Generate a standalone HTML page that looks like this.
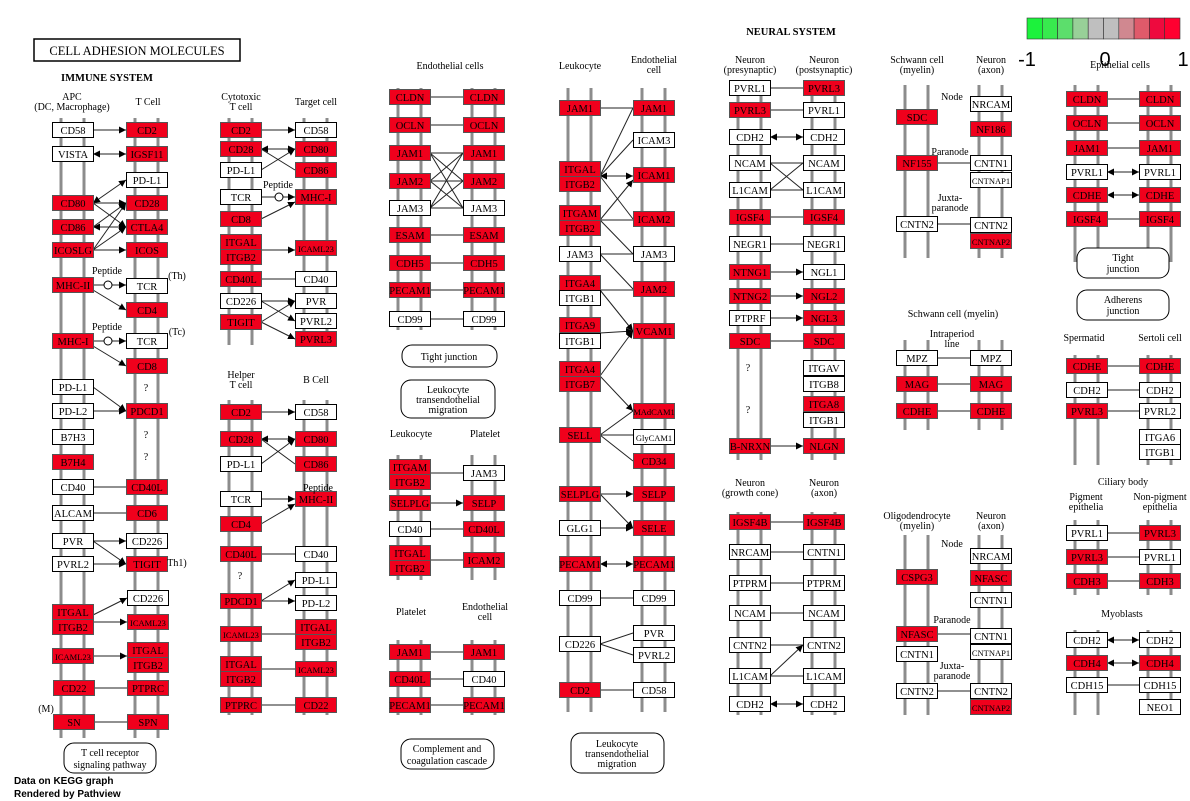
<!DOCTYPE html>
<html><head><meta charset="utf-8"><style>
html,body{margin:0;padding:0;background:#fff;}
svg{display:block;}
text{font-family:"Liberation Serif",serif;}
</style></head><body>
<svg id="s" width="1190" height="801" xmlns="http://www.w3.org/2000/svg">
<defs><marker id="a" viewBox="0 0 10 10" refX="10" refY="5" markerWidth="7" markerHeight="7" orient="auto-start-reverse"><path d="M0,0L10,5L0,10z" fill="#000"/></marker></defs>
<g id="mem"></g><g id="edg"></g><g id="nod"></g>
<g id="txt" font-size="10" text-anchor="middle" fill="#000">
<rect x="34" y="39" width="206" height="22" fill="#fff" stroke="#000" stroke-width="1.5"/>
<text x="137" y="55" font-size="12.5">CELL ADHESION MOLECULES</text>
<text x="107" y="81" font-size="10.5" font-weight="bold">IMMUNE SYSTEM</text>
<text x="791" y="35" font-size="10.5" font-weight="bold">NEURAL SYSTEM</text>
<text x="72" y="100">APC</text><text x="72" y="110">(DC, Macrophage)</text><text x="148" y="105">T Cell</text>
<text x="241" y="100">Cytotoxic</text><text x="241" y="110">T cell</text><text x="316" y="105">Target cell</text>
<text x="241" y="378">Helper</text><text x="241" y="388">T cell</text><text x="316" y="383">B Cell</text>
<text x="450" y="69">Endothelial cells</text>
<text x="411" y="437">Leukocyte</text><text x="485" y="437">Platelet</text>
<text x="411" y="615">Platelet</text><text x="485" y="610">Endothelial</text><text x="485" y="620">cell</text>
<text x="580" y="69">Leukocyte</text><text x="654" y="63">Endothelial</text><text x="654" y="73">cell</text>
<text x="750" y="63">Neuron</text><text x="750" y="73">(presynaptic)</text><text x="824" y="63">Neuron</text><text x="824" y="73">(postsynaptic)</text>
<text x="750" y="486">Neuron</text><text x="750" y="496">(growth cone)</text><text x="824" y="486">Neuron</text><text x="824" y="496">(axon)</text>
<text x="917" y="63">Schwann cell</text><text x="917" y="73">(myelin)</text><text x="991" y="63">Neuron</text><text x="991" y="73">(axon)</text>
<text x="952" y="100">Node</text><text x="950" y="155">Paranode</text><text x="950" y="201">Juxta-</text><text x="950" y="211">paranode</text>
<text x="953" y="317">Schwann cell (myelin)</text><text x="952" y="337">Intraperiod</text><text x="952" y="347">line</text>
<text x="917" y="519">Oligodendrocyte</text><text x="917" y="529">(myelin)</text><text x="991" y="519">Neuron</text><text x="991" y="529">(axon)</text>
<text x="952" y="547">Node</text><text x="952" y="623">Paranode</text><text x="952" y="669">Juxta-</text><text x="952" y="679">paranode</text>
<text x="1120" y="68">Epithelial cells</text>
<text x="1084" y="341">Spermatid</text><text x="1160" y="341">Sertoli cell</text>
<text x="1123" y="485">Ciliary body</text><text x="1086" y="500">Pigment</text><text x="1086" y="510">epithelia</text><text x="1160" y="500">Non-pigment</text><text x="1160" y="510">epithelia</text>
<text x="1122" y="617">Myoblasts</text>
<text x="107" y="274">Peptide</text><text x="107" y="330">Peptide</text><text x="278" y="188">Peptide</text><text x="318" y="491">Peptide</text>
<text x="177" y="279">(Th)</text><text x="177" y="335">(Tc)</text><text x="177" y="566">Th1)</text><text x="46" y="712">(M)</text>
<text x="146" y="391">?</text><text x="146" y="438">?</text><text x="146" y="460">?</text><text x="240" y="579">?</text>
<text x="748" y="371">?</text><text x="748" y="413">?</text>
<rect x="64" y="743" width="92" height="30" rx="10" fill="#fff" stroke="#000"/><text x="110" y="756">T cell receptor</text><text x="110" y="768">signaling pathway</text>
<rect x="402" y="345" width="95" height="22" rx="10" fill="#fff" stroke="#000"/><text x="449" y="360">Tight junction</text>
<rect x="401" y="380" width="94" height="38" rx="10" fill="#fff" stroke="#000"/><text x="448" y="393">Leukocyte</text><text x="448" y="403">transendothelial</text><text x="448" y="413">migration</text>
<rect x="401" y="739" width="93" height="30" rx="10" fill="#fff" stroke="#000"/><text x="447" y="752">Complement and</text><text x="447" y="764">coagulation cascade</text>
<rect x="571" y="733" width="93" height="40" rx="10" fill="#fff" stroke="#000"/><text x="617" y="747">Leukocyte</text><text x="617" y="757">transendothelial</text><text x="617" y="767">migration</text>
<rect x="1077" y="248" width="92" height="30" rx="10" fill="#fff" stroke="#000"/><text x="1123" y="261">Tight</text><text x="1123" y="272">junction</text>
<rect x="1077" y="290" width="92" height="30" rx="10" fill="#fff" stroke="#000"/><text x="1123" y="303">Adherens</text><text x="1123" y="314">junction</text>
</g>
<g id="leg"></g>
<text x="14" y="784" font-family="Liberation Sans,sans-serif" font-size="10" font-weight="bold" style="font-family:'Liberation Sans',sans-serif">Data on KEGG graph</text>
<text x="14" y="797" font-size="10" font-weight="bold" style="font-family:'Liberation Sans',sans-serif">Rendered by Pathview</text>
</svg>
<script>
var NS="http://www.w3.org/2000/svg";
function el(g,t,a,txt){var e=document.createElementNS(NS,t);for(var k in a)e.setAttribute(k,a[k]);if(txt)e.textContent=txt;document.getElementById(g).appendChild(e);return e;}
// membranes: [boxX, y1, y2]
var M=[[52,118,738],[126,118,738],[220,118,345],[295,118,345],[220,400,715],[295,400,715],
[389,88,330],[463,88,330],[389,455,580],[463,455,580],[389,640,715],[463,640,715],
[559,88,712],[633,88,712],[729,80,460],[803,80,460],[729,512,715],[803,512,715],
[896,85,258],[970,85,258],[896,340,430],[970,340,430],[896,535,715],[970,535,715],
[1066,85,262],[1139,85,262],[1066,355,465],[1139,355,465],[1066,520,595],[1139,520,595],[1066,630,715],[1139,630,715]];
M.forEach(function(m){[m[0]+9,m[0]+32].forEach(function(x){el("mem","rect",{x:x-1.5,y:m[1],width:3,height:m[2]-m[1],fill:"#8c8c8c"});});});
// legend
var LC=["#1cf23c","#38ea4e","#5cde6c","#98d098","#bfbfbf","#bfbfbf","#d08890","#e05a6a","#ee0a3e","#ff0030"];
LC.forEach(function(c,i){el("leg","rect",{x:1027+i*15.3,y:18,width:15.3,height:21,fill:c,stroke:"#333","stroke-width":0.6});});
[["-1",1027],["0",1105],["1",1183]].forEach(function(t){el("leg","text",{x:t[1],y:66,"font-size":20,"text-anchor":"middle",style:"font-family:'Liberation Sans',sans-serif"},t[0]);});
// nodes [x, cy, label, red]
var R=1,W=0;
var N=[
[52,130,"CD58",W],[52,154,"VISTA",W],[52,203,"CD80",R],[52,227,"CD86",R],[52,250,"ICOSLG",R],[52,285,"MHC-II",R],[52,341,"MHC-I",R],[52,387,"PD-L1",W],[52,411,"PD-L2",W],[52,437,"B7H3",W],[52,462,"B7H4",R],[52,487,"CD40",W],[52,513,"ALCAM",W],[52,541,"PVR",W],[52,564,"PVRL2",W],[52,612,"ITGAL",R],[52,627,"ITGB2",R],[52,656,"ICAML23",R],[53,688,"CD22",R],[53,722,"SN",R],
[126,130,"CD2",R],[126,154,"IGSF11",R],[126,180,"PD-L1",W],[126,203,"CD28",R],[126,227,"CTLA4",R],[126,250,"ICOS",R],[126,286,"TCR",W],[126,310,"CD4",R],[126,341,"TCR",W],[126,366,"CD8",R],[126,411,"PDCD1",R],[126,487,"CD40L",R],[126,513,"CD6",R],[126,541,"CD226",W],[126,564,"TIGIT",R],[127,598,"CD226",W],[127,622,"ICAML23",R],[127,650,"ITGAL",R],[127,665,"ITGB2",R],[127,688,"PTPRC",R],[127,722,"SPN",R],
[220,130,"CD2",R],[220,149,"CD28",R],[220,170,"PD-L1",W],[220,197,"TCR",W],[220,219,"CD8",R],[220,242,"ITGAL",R],[220,257,"ITGB2",R],[220,279,"CD40L",R],[220,301,"CD226",W],[220,322,"TIGIT",R],
[220,412,"CD2",R],[220,439,"CD28",R],[220,464,"PD-L1",W],[220,499,"TCR",W],[220,524,"CD4",R],[220,554,"CD40L",R],[220,601,"PDCD1",R],[220,634,"ICAML23",R],[220,664,"ITGAL",R],[220,679,"ITGB2",R],[220,705,"PTPRC",R],
[295,130,"CD58",W],[295,149,"CD80",R],[295,170,"CD86",R],[295,197,"MHC-I",R],[295,248,"ICAML23",R],[295,279,"CD40",W],[295,301,"PVR",W],[295,321,"PVRL2",W],[295,339,"PVRL3",R],
[295,412,"CD58",W],[295,439,"CD80",R],[295,464,"CD86",R],[295,499,"MHC-II",R],[295,554,"CD40",W],[295,580,"PD-L1",W],[295,603,"PD-L2",W],[295,627,"ITGAL",R],[295,642,"ITGB2",R],[295,669,"ICAML23",R],[295,705,"CD22",R],
[389,97,"CLDN",R],[389,125,"OCLN",R],[389,153,"JAM1",R],[389,181,"JAM2",R],[389,208,"JAM3",W],[389,235,"ESAM",R],[389,263,"CDH5",R],[389,290,"PECAM1",R],[389,319,"CD99",W],
[463,97,"CLDN",R],[463,125,"OCLN",R],[463,153,"JAM1",R],[463,181,"JAM2",R],[463,208,"JAM3",W],[463,235,"ESAM",R],[463,263,"CDH5",R],[463,290,"PECAM1",R],[463,319,"CD99",W],
[389,467,"ITGAM",R],[389,482,"ITGB2",R],[389,503,"SELPLG",R],[389,529,"CD40",W],[389,553,"ITGAL",R],[389,568,"ITGB2",R],
[463,473,"JAM3",W],[463,503,"SELP",R],[463,529,"CD40L",R],[463,560,"ICAM2",R],
[389,652,"JAM1",R],[389,679,"CD40L",R],[389,705,"PECAM1",R],[463,652,"JAM1",R],[463,679,"CD40",W],[463,705,"PECAM1",R],
[559,108,"JAM1",R],[559,169,"ITGAL",R],[559,184,"ITGB2",R],[559,213,"ITGAM",R],[559,228,"ITGB2",R],[559,254,"JAM3",W],[559,283,"ITGA4",R],[559,298,"ITGB1",W],[559,325,"ITGA9",R],[559,341,"ITGB1",W],[559,369,"ITGA4",R],[559,384,"ITGB7",R],[559,435,"SELL",R],[559,494,"SELPLG",R],[559,528,"GLG1",W],[559,564,"PECAM1",R],[559,598,"CD99",W],[559,644,"CD226",W],[559,690,"CD2",R],
[633,108,"JAM1",R],[633,140,"ICAM3",W],[633,175,"ICAM1",R],[633,219,"ICAM2",R],[633,254,"JAM3",W],[633,289,"JAM2",R],[633,331,"VCAM1",R],[633,411,"MAdCAM1",R],[633,437,"GlyCAM1",W],[633,461,"CD34",R],[633,494,"SELP",R],[633,528,"SELE",R],[633,564,"PECAM1",R],[633,598,"CD99",W],[633,633,"PVR",W],[633,655,"PVRL2",W],[633,690,"CD58",W],
[729,88,"PVRL1",W],[729,110,"PVRL3",R],[729,137,"CDH2",W],[729,163,"NCAM",W],[729,190,"L1CAM",W],[729,217,"IGSF4",R],[729,244,"NEGR1",W],[729,272,"NTNG1",R],[729,296,"NTNG2",R],[729,318,"PTPRF",W],[729,341,"SDC",R],[729,446,"B-NRXN",R],
[729,522,"IGSF4B",R],[729,552,"NRCAM",W],[729,583,"PTPRM",W],[729,613,"NCAM",W],[729,645,"CNTN2",W],[729,676,"L1CAM",W],[729,704,"CDH2",W],
[803,88,"PVRL3",R],[803,110,"PVRL1",W],[803,137,"CDH2",W],[803,163,"NCAM",W],[803,190,"L1CAM",W],[803,217,"IGSF4",R],[803,244,"NEGR1",W],[803,272,"NGL1",W],[803,296,"NGL2",R],[803,318,"NGL3",R],[803,341,"SDC",R],[803,368,"ITGAV",W],[803,384,"ITGB8",W],[803,404,"ITGA8",R],[803,420,"ITGB1",W],[803,446,"NLGN",R],
[803,522,"IGSF4B",R],[803,552,"CNTN1",W],[803,583,"PTPRM",W],[803,613,"NCAM",W],[803,645,"CNTN2",W],[803,676,"L1CAM",W],[803,704,"CDH2",W],
[896,117,"SDC",R],[896,163,"NF155",R],[896,224,"CNTN2",W],[896,358,"MPZ",W],[896,384,"MAG",R],[896,411,"CDHE",R],[896,577,"CSPG3",R],[896,634,"NFASC",R],[896,654,"CNTN1",W],[896,691,"CNTN2",W],
[970,104,"NRCAM",W],[970,129,"NF186",R],[970,163,"CNTN1",W],[970,180,"CNTNAP1",W],[970,225,"CNTN2",W],[970,241,"CNTNAP2",R],[970,358,"MPZ",W],[970,384,"MAG",R],[970,411,"CDHE",R],
[970,556,"NRCAM",W],[970,578,"NFASC",R],[970,600,"CNTN1",W],[970,636,"CNTN1",W],[970,652,"CNTNAP1",W],[970,691,"CNTN2",W],[970,707,"CNTNAP2",R],
[1066,99,"CLDN",R],[1066,123,"OCLN",R],[1066,148,"JAM1",R],[1066,172,"PVRL1",W],[1066,195,"CDHE",R],[1066,219,"IGSF4",R],[1066,366,"CDHE",R],[1066,390,"CDH2",W],[1066,411,"PVRL3",R],[1066,533,"PVRL1",W],[1066,557,"PVRL3",R],[1066,581,"CDH3",R],[1066,640,"CDH2",W],[1066,663,"CDH4",R],[1066,685,"CDH15",W],
[1139,99,"CLDN",R],[1139,123,"OCLN",R],[1139,148,"JAM1",R],[1139,172,"PVRL1",W],[1139,195,"CDHE",R],[1139,219,"IGSF4",R],[1139,366,"CDHE",R],[1139,390,"CDH2",W],[1139,411,"PVRL2",W],[1139,437,"ITGA6",W],[1139,452,"ITGB1",W],[1139,533,"PVRL3",R],[1139,557,"PVRL1",W],[1139,581,"CDH3",R],[1139,640,"CDH2",W],[1139,663,"CDH4",R],[1139,685,"CDH15",W],[1139,707,"NEO1",W]];
// edges
var E=[];
function h(y,xa,xb,m){E.push([xa,y,xb,y,m]);}
function d(x1,y1,x2,y2,m){E.push([x1,y1,x2,y2,m]);}
// m: 0 none,1 end arrow,2 both
h(130,93,126,1);h(154,93,126,2);d(93,203,126,180,2);h(203,93,126,1);d(93,203,126,227,1);h(227,93,126,2);d(93,227,126,203,1);d(93,250,126,203,1);d(93,250,126,227,1);h(250,93,126,1);
h(285,93,126,1);d(93,290,126,310,1);h(341,93,126,1);d(93,346,126,366,1);d(93,387,126,411,1);h(411,93,126,1);h(487,93,126,0);h(513,93,126,0);d(93,541,126,541,1);d(93,541,126,564,1);h(564,93,126,1);
d(93,615,127,598,1);h(622,93,127,1);h(656,93,127,1);h(688,94,127,0);h(722,94,127,0);
h(130,261,295,1);h(149,261,295,2);d(261,149,295,170,0);d(261,170,295,149,1);h(197,261,295,1);d(261,219,295,202,1);h(250,261,295,1);h(279,261,295,0);d(261,301,295,301,1);d(261,301,295,321,1);d(261,322,295,301,1);d(261,322,295,339,1);
h(412,261,295,1);h(439,261,295,2);d(261,439,295,464,0);d(261,464,295,439,1);h(499,261,295,1);d(261,524,295,504,1);h(554,261,295,0);d(261,601,295,580,1);h(601,261,295,1);h(634,261,295,0);h(669,261,295,0);h(705,261,295,0);
[97,125,153,181,208,235,263,290,319].forEach(function(y){h(y,430,463,0);});
[153,181,208].forEach(function(a){[153,181,208].forEach(function(b){if(a!=b)d(430,a,463,b,0);});});
h(473,430,463,0);h(503,430,463,1);h(529,430,463,0);h(560,430,463,0);h(652,430,463,0);h(679,430,463,0);h(705,430,463,0);
h(108,600,633,0);d(600,176,633,108,0);d(600,176,633,140,0);h(176,600,633,2);d(600,176,633,219,0);d(600,220,633,180,1);h(220,600,633,0);d(600,220,633,254,0);h(254,600,633,0);d(600,254,633,289,0);h(290,600,633,0);d(600,290,633,331,1);d(600,333,633,331,1);d(600,376,633,331,1);d(600,376,633,411,1);h(435,600,633,0);d(600,435,633,461,0);d(600,435,633,411,0);
h(494,600,633,1);d(600,494,633,528,1);h(528,600,633,1);h(564,600,633,2);h(598,600,633,0);d(600,644,633,633,0);d(600,644,633,655,0);h(690,600,633,0);
h(88,770,803,0);h(110,770,803,0);h(137,770,803,2);h(163,770,803,0);h(190,770,803,0);d(770,163,803,190,0);d(770,190,803,163,0);h(217,770,803,0);h(244,770,803,0);d(770,272,803,272,1);h(296,770,803,1);h(318,770,803,1);h(341,770,803,0);h(446,770,803,1);
h(522,770,803,0);h(552,770,803,0);h(583,770,803,0);h(613,770,803,0);h(645,770,803,0);d(770,676,803,645,1);h(676,770,803,0);h(704,770,803,2);
h(163,937,970,0);h(224,937,970,0);h(358,937,970,0);h(384,937,970,0);h(411,937,970,0);h(634,937,970,0);h(691,937,970,0);
h(99,1107,1139,0);h(123,1107,1139,0);h(148,1107,1139,0);h(172,1107,1139,2);h(195,1107,1139,2);h(219,1107,1139,0);h(366,1107,1139,0);h(390,1107,1139,0);h(411,1107,1139,0);h(533,1107,1139,0);h(557,1107,1139,0);h(581,1107,1139,0);h(640,1107,1139,2);h(663,1107,1139,2);h(685,1107,1139,0);
E.forEach(function(e){var a={x1:e[0],y1:e[1],x2:e[2],y2:e[3],stroke:"#222","stroke-width":1};if(e[4]>=1)a["marker-end"]="url(#a)";if(e[4]==2)a["marker-start"]="url(#a)";el("edg","line",a);});
// peptide circles
[[108,285],[108,341],[279,197],[320,499]].forEach(function(p){el("edg","circle",{cx:p[0],cy:p[1],r:4,fill:"#fff",stroke:"#000"});});
N.forEach(function(n){var w=41,hh=15;el("nod","rect",{x:n[0]+0.5,y:n[1]-7.5,width:w,height:hh,fill:n[3]?"#f0001c":"#fff",stroke:n[3]?"#555":"#000","stroke-width":1});
var fs=n[2].length>6?8.5:10.5;el("nod","text",{x:n[0]+21,y:n[1]+4,"font-size":fs,"text-anchor":"middle",fill:"#000"},n[2]);});
</script>
</body></html>
